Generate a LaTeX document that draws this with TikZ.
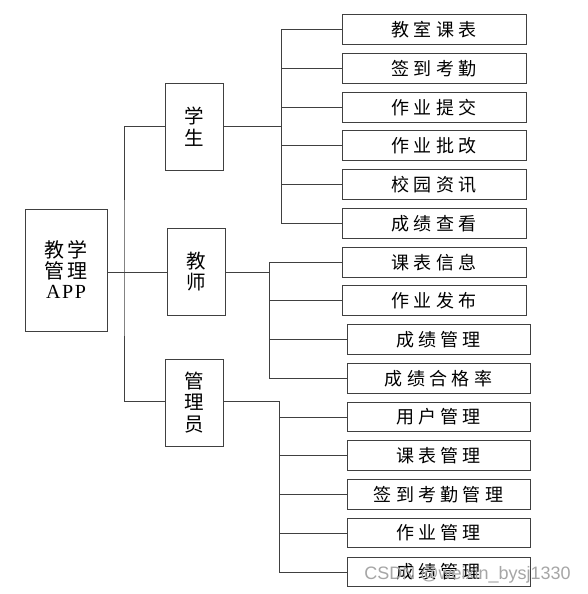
\documentclass[tikz,border=0pt]{standalone}
\usepackage{fontspec}
\setmainfont{Liberation Serif}
\newfontfamily\cjk[LetterSpace=24]{Noto Sans CJK SC}
\newfontfamily\cjkb{Noto Sans CJK SC}
\newfontfamily\appfont[LetterSpace=8]{Liberation Serif}
\newfontfamily\wmfont{Liberation Sans}
\begin{document}
\begin{tikzpicture}[x=1pt,y=-1pt,
  ln/.style={draw=black!75, line width=0.9pt},
  box/.style={draw=black!75, line width=0.9pt, fill=white, inner sep=0pt},
  leaf/.style={box, minimum width=184pt, minimum height=29.5pt, font=\cjk\fontsize{18}{20}\selectfont},
  mid/.style={box, minimum width=58pt, minimum height=87pt, align=center, font=\cjkb\fontsize{19.5}{21.5}\selectfont},
]
\useasboundingbox (0,0) rectangle (587,594);
% root
\node[box, minimum width=82pt, minimum height=122pt, align=center, font=\cjkb\fontsize{20}{20.5}\selectfont] (root) at (66,270)
  {教\,学\\管\,理\\\appfont APP};
% second level
\node[mid] (stu) at (194,126.5) {学\\生};
\node[mid] (tea) at (196,271.5) {教\\师};
\node[mid] (adm) at (194,402.5) {管\\理\\员};
% student leaves
\node[leaf] (s1) at (434,29.5) {教室课表};
\node[leaf] (s2) at (434,68.5) {签到考勤};
\node[leaf] (s3) at (434,107.5) {作业提交};
\node[leaf] (s4) at (434,145.5) {作业批改};
\node[leaf] (s5) at (434,184.5) {校园资讯};
\node[leaf] (s6) at (434,223.5) {成绩查看};
% teacher leaves
\node[leaf] (t1) at (434,262.5) {课表信息};
\node[leaf] (t2) at (434,300.5) {作业发布};
\node[leaf, minimum width=183pt] (t3) at (438.5,339.5) {成绩管理};
\node[leaf, minimum width=183pt] (t4) at (438.5,378.5) {成绩合格率};
% admin leaves
\node[leaf, minimum width=183pt] (a1) at (438.5,417) {用户管理};
\node[leaf, minimum width=183pt] (a2) at (438.5,455.5) {课表管理};
\node[leaf, minimum width=183pt] (a3) at (438.5,494.5) {签到考勤管理};
\node[leaf, minimum width=183pt] (a4) at (438.5,533) {作业管理};
\node[leaf, minimum width=183pt] (a5) at (438.5,572) {成绩管理};
% trunk coordinates
\coordinate (rj) at (124,272);
\coordinate (sj) at (281,126);
\coordinate (tj) at (269,272);
\coordinate (aj) at (279,401);
% root connectors
\draw[ln] (root.east |- rj) -- (tea.west |- rj);
\draw[ln] (stu.west |- sj) -| (rj) |- (adm.west |- aj);
% student
\draw[ln] (stu.east |- sj) -- (sj);
\draw[ln] (s1.west -| sj) -- (s6.west -| sj);
\foreach \n in {s1,s2,s3,s4,s5,s6} \draw[ln] (\n.west) -- (\n.west -| sj);
% teacher
\draw[ln] (tea.east |- tj) -- (tj);
\draw[ln] (t1.west -| tj) -- (t4.west -| tj);
\foreach \n in {t1,t2,t3,t4} \draw[ln] (\n.west) -- (\n.west -| tj);
% admin
\draw[ln] (adm.east |- aj) -- (aj);
\draw[ln] (aj) -- (a5.west -| aj);
\foreach \n in {a1,a2,a3,a4,a5} \draw[ln] (\n.west) -- (\n.west -| aj);
% watermark
\node[text=black!35, font=\wmfont\fontsize{18}{20}\selectfont, anchor=east, inner sep=0pt] (wm) at (571,575) {CSDN @weixin\_bysj1330};
\end{tikzpicture}
\end{document}
